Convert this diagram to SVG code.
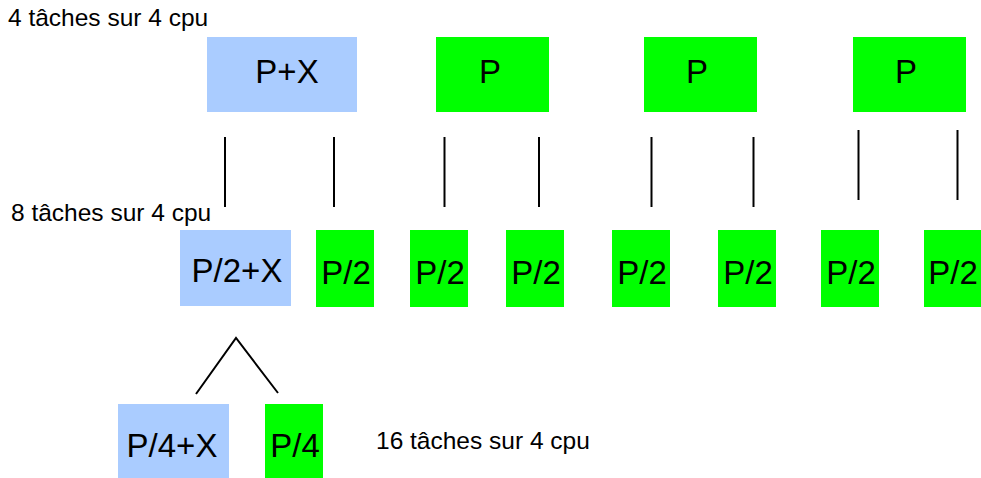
<svg xmlns="http://www.w3.org/2000/svg" width="981" height="478" viewBox="0 0 981 478">
<style>
.blue{fill:#aaccff}
.green{fill:#00ff00}
.lbl{font-family:"Liberation Sans",Arial,sans-serif;font-size:33px;fill:#000;text-anchor:middle}
.side{font-family:"Liberation Sans",Arial,sans-serif;font-size:24.5px;fill:#000}
.conn line,.conn polyline{stroke:#000;stroke-width:2;fill:none}
</style>
<rect width="981" height="478" fill="#fff"/>
<text class="side" x="8" y="26">4 tâches sur 4 cpu</text>
<text class="side" x="11" y="221">8 tâches sur 4 cpu</text>
<text class="side" x="376" y="449">16 tâches sur 4 cpu</text>
<g id="n-px"><rect class="blue" x="207" y="37" width="150" height="75"/><text class="lbl" x="287" y="83">P+X</text></g>
<g id="n-p1"><rect class="green" x="436" y="37" width="113" height="75"/><text class="lbl" x="490" y="83">P</text></g>
<g id="n-p2"><rect class="green" x="644" y="37" width="113" height="75"/><text class="lbl" x="697" y="83">P</text></g>
<g id="n-p3"><rect class="green" x="853" y="37" width="113" height="75"/><text class="lbl" x="906" y="83">P</text></g>
<g id="n-p2x"><rect class="blue" x="180" y="230" width="111" height="76"/><text class="lbl" x="237" y="282">P/2+X</text></g>
<g id="n-h1"><rect class="green" x="316" y="230" width="58" height="77"/><text class="lbl" x="346" y="284">P/2</text></g>
<g id="n-h2"><rect class="green" x="410" y="230" width="58" height="77"/><text class="lbl" x="440" y="284">P/2</text></g>
<g id="n-h3"><rect class="green" x="506" y="230" width="58" height="77"/><text class="lbl" x="536" y="284">P/2</text></g>
<g id="n-h4"><rect class="green" x="612" y="230" width="58" height="77"/><text class="lbl" x="642" y="284">P/2</text></g>
<g id="n-h5"><rect class="green" x="718" y="230" width="58" height="77"/><text class="lbl" x="748" y="284">P/2</text></g>
<g id="n-h6"><rect class="green" x="821" y="230" width="58" height="77"/><text class="lbl" x="851" y="284">P/2</text></g>
<g id="n-h7"><rect class="green" x="924" y="230" width="57" height="77"/><text class="lbl" x="953" y="284">P/2</text></g>
<g id="n-p4x"><rect class="blue" x="118" y="404" width="111" height="74"/><text class="lbl" x="172" y="457">P/4+X</text></g>
<g id="n-p4"><rect class="green" x="265" y="404" width="58" height="74"/><text class="lbl" x="295" y="457">P/4</text></g>
<g class="conn" id="connectors">
<line x1="225" y1="137" x2="225" y2="207"/>
<line x1="334" y1="137" x2="334" y2="207"/>
<line x1="444.5" y1="137" x2="444.5" y2="207"/>
<line x1="539" y1="137" x2="539" y2="207"/>
<line x1="651.5" y1="137" x2="651.5" y2="207"/>
<line x1="753.5" y1="137" x2="753.5" y2="207"/>
<line x1="858.5" y1="130" x2="858.5" y2="200"/>
<line x1="957.5" y1="130" x2="957.5" y2="200"/>
<polyline points="196,394 236,338 278,393"/>
</g>
</svg>
